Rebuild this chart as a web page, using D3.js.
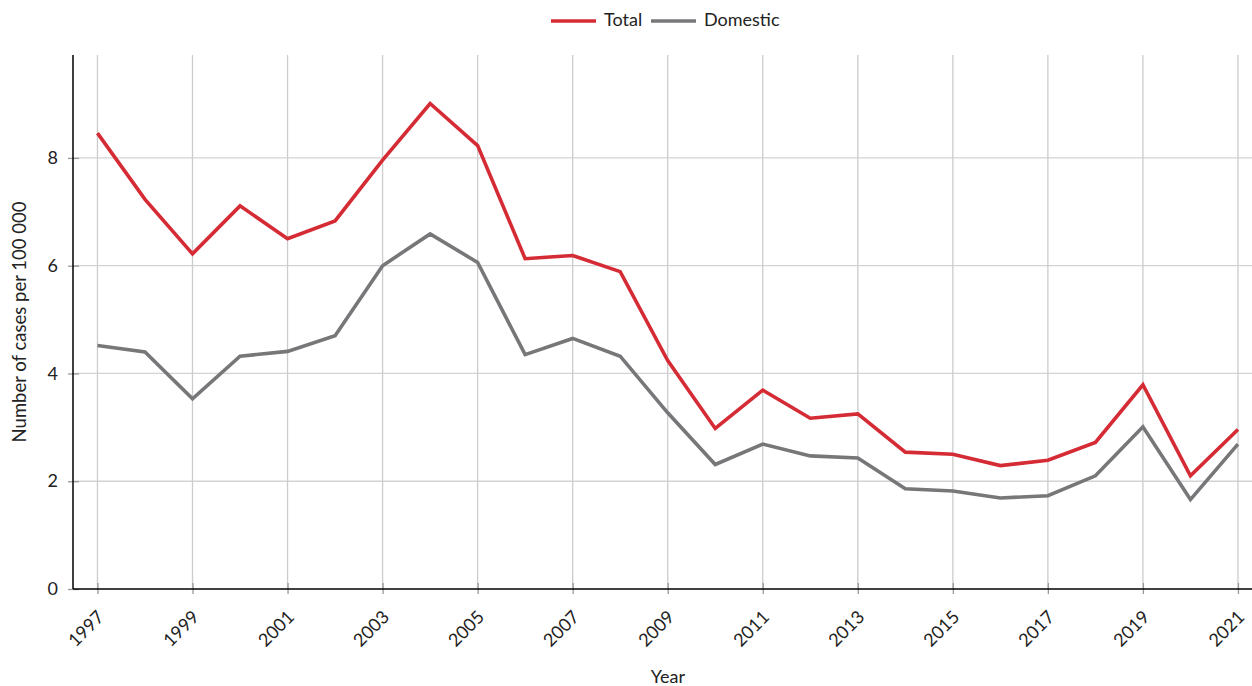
<!DOCTYPE html>
<html>
<head>
<meta charset="utf-8">
<script src="https://cdn.jsdelivr.net/npm/d3@7"></script>
<style>
  html, body { margin: 0; padding: 0; background: #fff; }
  svg { display: block; font-family: Lato, "Open Sans", sans-serif; }
</style>
</head>
<body>
<svg id="chart" width="1252" height="686"></svg>
<script>
// Rates per 100 000 inhabitants, 1997–2021
const years = d3.range(1997, 2022);
const totalRate = [8.46, 7.23, 6.22, 7.11, 6.50, 6.83, 7.96, 9.01, 8.23, 6.13,
                   6.19, 5.89, 4.24, 2.98, 3.69, 3.17, 3.25, 2.54, 2.50, 2.29,
                   2.39, 2.72, 3.79, 2.10, 2.96];
const domesticRate = [4.52, 4.40, 3.53, 4.32, 4.41, 4.70, 6.00, 6.59, 6.06, 4.35,
                      4.65, 4.32, 3.27, 2.31, 2.69, 2.47, 2.43, 1.86, 1.82, 1.69,
                      1.73, 2.10, 3.01, 1.66, 2.69];
const yTicks = [0, 2, 4, 6, 8];
const xTickYears = d3.range(1997, 2022, 2);
const seriesNames = ["Total", "Domestic"];
const seriesColors = ["#d52b35", "#77777a"];

const svg = d3.select("#chart");
const W = 1252;
const plotLeft = 73, plotTop = 55, plotBottom = 589;
const step = 47.52;

const x = d3.scaleLinear()
  .domain([1997, 2021])
  .range([plotLeft + step * 0.515, plotLeft + step * 24.515]);
const y = d3.scaleLinear()
  .domain([0, 9.91])
  .range([plotBottom, plotTop]);

// horizontal gridlines
svg.append("g")
  .selectAll("line")
  .data(yTicks.filter(d => d > 0))
  .join("line")
  .attr("x1", plotLeft).attr("x2", W)
  .attr("y1", d => y(d)).attr("y2", d => y(d))
  .attr("stroke", "#d3d3d3").attr("stroke-width", 1.3);

// vertical gridlines
svg.append("g")
  .selectAll("line")
  .data(xTickYears)
  .join("line")
  .attr("x1", d => x(d)).attr("x2", d => x(d))
  .attr("y1", plotTop).attr("y2", plotBottom)
  .attr("stroke", "#cccccc").attr("stroke-width", 1.3);

// y axis
const yAxis = svg.append("g")
  .attr("transform", `translate(${plotLeft},0)`)
  .call(d3.axisLeft(y).tickValues(yTicks).tickSize(5));
yAxis.select(".domain").remove();
yAxis.selectAll(".tick line").attr("x1", -5).attr("x2", 6)
  .attr("stroke", "#999").attr("stroke-width", 1.3);
yAxis.selectAll(".tick text").attr("font-size", 18).attr("fill", "#222")
  .attr("font-family", "Lato, sans-serif").attr("x", -15);
svg.append("line")
  .attr("x1", plotLeft).attr("x2", plotLeft).attr("y1", plotTop).attr("y2", plotBottom)
  .attr("stroke", "#000").attr("stroke-width", 1.5);

// x axis
const xAxis = svg.append("g")
  .attr("transform", `translate(0,${plotBottom})`)
  .call(d3.axisBottom(x).tickValues(xTickYears).tickFormat(d3.format("d")).tickSize(5));
xAxis.select(".domain").remove();
xAxis.selectAll(".tick line").attr("y1", -6).attr("y2", 5)
  .attr("stroke", "#999").attr("stroke-width", 1.3);
xAxis.selectAll(".tick text")
  .attr("font-size", 18).attr("fill", "#222").attr("font-family", "Lato, sans-serif")
  .attr("text-anchor", "end")
  .attr("dy", null).attr("y", null)
  .attr("transform", "translate(4,26) rotate(-45)")
  .attr("dominant-baseline", "middle");
svg.append("line")
  .attr("x1", plotLeft).attr("x2", W).attr("y1", plotBottom).attr("y2", plotBottom)
  .attr("stroke", "#000").attr("stroke-width", 1.5);

// axis titles
svg.append("text")
  .attr("x", 668).attr("y", 683)
  .attr("text-anchor", "middle")
  .attr("font-size", 18).attr("fill", "#222")
  .text("Year");
svg.append("text")
  .attr("transform", `translate(26,${(plotTop + plotBottom) / 2}) rotate(-90)`)
  .attr("text-anchor", "middle")
  .attr("font-size", 18.5).attr("fill", "#222")
  .text("Number of cases per 100 000");

// lines
const line = d3.line().x((d, i) => x(years[i])).y(d => y(d));
[totalRate, domesticRate].forEach((vals, k) => {
  svg.append("path")
    .datum(vals)
    .attr("d", line)
    .attr("fill", "none")
    .attr("stroke", seriesColors[k])
    .attr("stroke-width", 3.6)
    .attr("stroke-linejoin", "miter");
});

// legend
const legendX = [551, 651];
const lg = svg.append("g");
seriesNames.forEach((name, k) => {
  lg.append("line")
    .attr("x1", legendX[k]).attr("x2", legendX[k] + 45)
    .attr("y1", 21).attr("y2", 21)
    .attr("stroke", seriesColors[k]).attr("stroke-width", 3.6);
  lg.append("text")
    .attr("x", legendX[k] + 53).attr("y", 26)
    .attr("font-size", 18).attr("fill", "#222")
    .text(name);
});
</script>
</body>
</html>
